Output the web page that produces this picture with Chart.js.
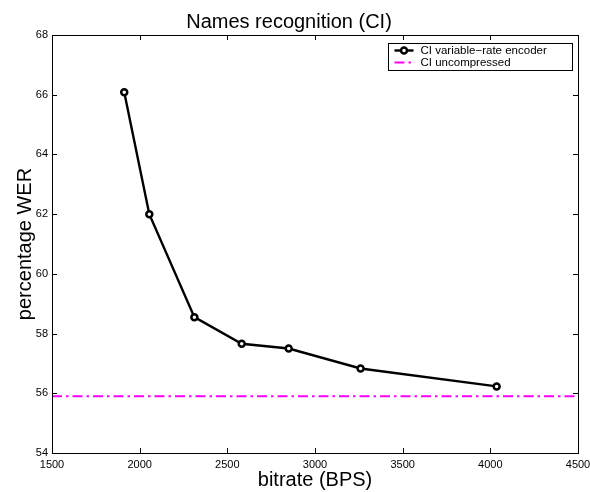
<!DOCTYPE html>
<html>
<head>
<meta charset="utf-8">
<script src="https://cdn.jsdelivr.net/npm/chart.js@4/dist/chart.umd.min.js"></script>
<style>
  html, body { margin: 0; padding: 0; background: #fff; }
  #wrap { width: 590px; height: 492px; position: relative; }
</style>
</head>
<body>
<div id="wrap"><canvas id="werChart"></canvas></div>
<script>
// data
const bitrate = [1912, 2055, 2312, 2582, 2850, 3260, 4036];
const werEncoder = [66.08, 62.0, 58.55, 57.66, 57.5, 56.83, 56.23];
const werUncompressedLevel = 55.9;
const uncompressedSpan = [1500, 4500];
const xTicks = [1500, 2000, 2500, 3000, 3500, 4000, 4500];
const yTicks = [54, 56, 58, 60, 62, 64, 66, 68];
const seriesLabels = ["CI variable\u2212rate encoder", "CI uncompressed"];

const FONT = "'Liberation Sans', Arial, Helvetica, sans-serif";

// box round the axes + inward ticks on all four sides (matlab style)
const axesBoxPlugin = {
  id: "axesBox",
  afterDraw(chart) {
    const { ctx, chartArea: a } = chart;
    const xs = chart.scales.x;
    const ys = chart.scales.y;
    const tl = 5;
    ctx.save();
    ctx.strokeStyle = "#000";
    ctx.lineWidth = 1;
    ctx.beginPath();
    xs.ticks.forEach((t) => {
      const px = Math.round(xs.getPixelForValue(t.value)) + 0.5;
      ctx.moveTo(px, a.bottom);
      ctx.lineTo(px, a.bottom - tl);
      ctx.moveTo(px, a.top);
      ctx.lineTo(px, a.top + tl);
    });
    ys.ticks.forEach((t) => {
      const py = Math.round(ys.getPixelForValue(t.value)) + 0.5;
      ctx.moveTo(a.left, py);
      ctx.lineTo(a.left + tl, py);
      ctx.moveTo(a.right, py);
      ctx.lineTo(a.right - tl, py);
    });
    ctx.stroke();
    ctx.strokeRect(Math.round(a.left) + 0.5, Math.round(a.top) + 0.5,
      Math.round(a.right - a.left), Math.round(a.bottom - a.top));
    ctx.restore();
  },
};

// legend box inside the top right corner
const insideLegendPlugin = {
  id: "insideLegend",
  afterDraw(chart) {
    const { ctx, chartArea: a } = chart;
    const w = 184, h = 27;
    const x0 = Math.round(a.right - 6 - w) + 0.5;
    const y0 = Math.round(a.top + 8) + 0.5;
    ctx.save();
    ctx.fillStyle = "#fff";
    ctx.fillRect(x0, y0, w, h);
    ctx.strokeStyle = "#000";
    ctx.lineWidth = 1;
    ctx.strokeRect(x0, y0, w, h);
    ctx.font = "11.5px " + FONT;
    ctx.textBaseline = "middle";
    chart.data.datasets.forEach((ds, i) => {
      const yy = y0 + 7 + i * 12;
      const sx = x0 + 6, ex = x0 + 25;
      ctx.beginPath();
      ctx.strokeStyle = ds.borderColor;
      ctx.lineWidth = ds.borderWidth;
      ctx.setLineDash(ds.borderDash || []);
      ctx.moveTo(sx, yy);
      ctx.lineTo(ex, yy);
      ctx.stroke();
      ctx.setLineDash([]);
      if (ds.pointRadius > 0) {
        ctx.beginPath();
        ctx.arc((sx + ex) / 2, yy, ds.pointRadius, 0, Math.PI * 2);
        ctx.fillStyle = ds.pointBackgroundColor;
        ctx.fill();
        ctx.lineWidth = ds.pointBorderWidth;
        ctx.strokeStyle = ds.pointBorderColor;
        ctx.stroke();
      }
      ctx.fillStyle = "#000";
      ctx.fillText(ds.label, x0 + 32, yy + 0.5);
    });
    ctx.restore();
  },
};

new Chart(document.getElementById("werChart"), {
  type: "line",
  data: {
    datasets: [
      {
        label: seriesLabels[0],
        data: bitrate.map((b, i) => ({ x: b, y: werEncoder[i] })),
        borderColor: "#000",
        borderWidth: 2.4,
        pointRadius: 3,
        pointBorderWidth: 2.5,
        pointBorderColor: "#000",
        pointBackgroundColor: "#fff",
        tension: 0,
      },
      {
        label: seriesLabels[1],
        data: uncompressedSpan.map((b) => ({ x: b, y: werUncompressedLevel })),
        borderColor: "#ff00ff",
        borderWidth: 2.2,
        borderDash: [10, 4, 2.5, 4],
        pointRadius: 0,
        tension: 0,
      },
    ],
  },
  options: {
    responsive: true,
    maintainAspectRatio: false,
    animation: false,
    layout: { padding: { left: 0, right: 12, top: 0, bottom: 0 } },
    plugins: {
      legend: { display: false },
      tooltip: { enabled: false },
      title: {
        display: true,
        text: "Names recognition (CI)",
        color: "#000",
        font: { family: FONT, size: 20, weight: "normal" },
        padding: { top: 10, bottom: 1 },
      },
    },
    scales: {
      x: {
        type: "linear",
        min: 1500,
        max: 4500,
        afterBuildTicks: (s) => { s.ticks = xTicks.map((v) => ({ value: v })); },
        afterFit: (s) => { s.height = 39; s.paddingLeft = 0; s.paddingRight = 0; },
        grid: { display: false, drawTicks: false },
        border: { display: false },
        ticks: {
          color: "#000",
          padding: 5,
          maxRotation: 0,
          autoSkip: false,
          font: { family: FONT, size: 11 },
          callback: (v) => String(v),
        },
        title: {
          display: true,
          text: "bitrate (BPS)",
          color: "#000",
          font: { family: FONT, size: 20 },
          padding: { top: 0, bottom: 0 },
        },
      },
      y: {
        min: 54,
        max: 68,
        afterBuildTicks: (s) => { s.ticks = yTicks.map((v) => ({ value: v })); },
        afterFit: (s) => { s.width = 52; s.paddingTop = 0; s.paddingBottom = 0; },
        grid: { display: false, drawTicks: false },
        border: { display: false },
        ticks: {
          color: "#000",
          padding: 4,
          autoSkip: false,
          font: { family: FONT, size: 11 },
          callback: (v) => String(v),
        },
        title: {
          display: true,
          text: "percentage WER",
          color: "#000",
          font: { family: FONT, size: 20 },
          padding: { top: 13, bottom: 0 },
        },
      },
    },
  },
  plugins: [axesBoxPlugin, insideLegendPlugin],
});
</script>
</body>
</html>
